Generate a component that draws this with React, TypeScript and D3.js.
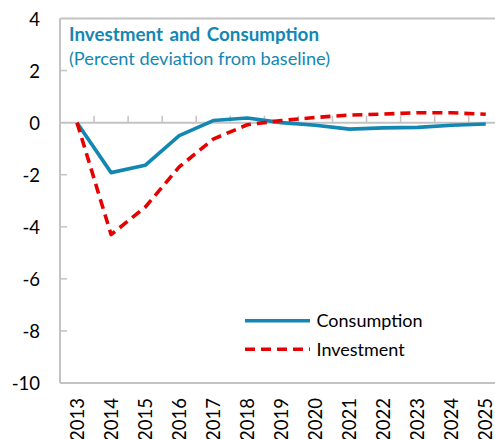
import React from "react";
import * as d3 from "d3";

const years = ["2013","2014","2015","2016","2017","2018","2019","2020","2021","2022","2023","2024","2025"];
const consumption = [0, -1.92, -1.64, -0.5, 0.08, 0.18, 0.0, -0.1, -0.25, -0.2, -0.18, -0.1, -0.05];
const investment = [0, -4.3, -3.25, -1.7, -0.63, -0.08, 0.08, 0.2, 0.29, 0.33, 0.38, 0.38, 0.32];
const yTicks = [4, 2, 0, -2, -4, -6, -8, -10];
const title = "Investment and Consumption";
const subtitle = "(Percent deviation from baseline)";
const seriesNames = ["Consumption", "Investment"];

const W = 495, H = 439;
const left = 60, top = 18.5, bottom = 383;
const step = 34.06;
const BLUE = "#1387b3";
const RED = "#e60000";
const GRID = "#c3c3c3";
const FONT = "Lato, 'Open Sans', sans-serif";

export default function App() {
  const x = d3.scaleBand<string>().domain(years).range([left, left + step * years.length]);
  const y = d3.scaleLinear().domain([-10, 4]).range([bottom, top]);
  const cx = (yr: string) => (x(yr) as number) + x.bandwidth() / 2;
  const line = d3.line<number>().x((_, i) => cx(years[i])).y((d) => y(d));
  const right = left + step * years.length;

  return (
    <svg width={W} height={H} style={{ position: "absolute", left: 0, top: 0, background: "#fff" }}>
      {/* plot box */}
      <line x1={left} x2={right} y1={y(4)} y2={y(4)} stroke={GRID} strokeWidth={2} />
      <line x1={left} x2={left} y1={y(4)} y2={y(-10)} stroke={GRID} strokeWidth={2} />
      <line x1={left} x2={right} y1={y(-10)} y2={y(-10)} stroke={GRID} strokeWidth={2} />
      {/* y ticks */}
      {yTicks.map((t) => (
        <g key={t}>
          {t !== 4 && t !== -10 && t !== 0 && (
            <line x1={left} x2={left + 7} y1={y(t)} y2={y(t)} stroke={GRID} strokeWidth={1.5} />
          )}
          <text x={40} y={y(t)} dy="0.38em" textAnchor="end" fontFamily={FONT} fontSize={18.5} fill="#000">
            {t}
          </text>
        </g>
      ))}
      {/* zero axis with ticks */}
      <line x1={left} x2={right} y1={y(0)} y2={y(0)} stroke={GRID} strokeWidth={2} />
      {years.slice(1).map((yr) => (
        <line key={yr} x1={x(yr) as number} x2={x(yr) as number} y1={y(0)} y2={y(0) - 7} stroke={GRID} strokeWidth={1.5} />
      ))}
      {/* x labels */}
      {years.map((yr) => (
        <text key={yr} transform={`translate(${cx(yr)},398) rotate(-90)`} dy="0.36em" textAnchor="end"
          fontFamily={FONT} fontSize={18.5} fill="#000">{yr}</text>
      ))}
      {/* series */}
      <path d={line(consumption) as string} fill="none" stroke={BLUE} strokeWidth={3.6} strokeLinejoin="round" />
      <path d={line(investment) as string} fill="none" stroke={RED} strokeWidth={3.6} strokeDasharray="10 6" strokeLinejoin="round" />
      {/* title */}
      <text x={69} y={40.5} fontFamily={FONT} fontSize={18.8} fontWeight="bold" fill={BLUE} wordSpacing={2}>{title}</text>
      <text x={69} y={64.5} fontFamily={FONT} fontSize={18.2} fill={BLUE}>{subtitle}</text>
      {/* legend */}
      <line x1={245} x2={310} y1={320.7} y2={320.7} stroke={BLUE} strokeWidth={3.6} />
      <text x={316.5} y={320.7} dy="0.36em" fontFamily={FONT} fontSize={18} fill="#000">{seriesNames[0]}</text>
      <line x1={245} x2={310} y1={349.3} y2={349.3} stroke={RED} strokeWidth={3.6} strokeDasharray="10 6" />
      <text x={316.5} y={349.3} dy="0.36em" fontFamily={FONT} fontSize={18} fill="#000">{seriesNames[1]}</text>
    </svg>
  );
}
